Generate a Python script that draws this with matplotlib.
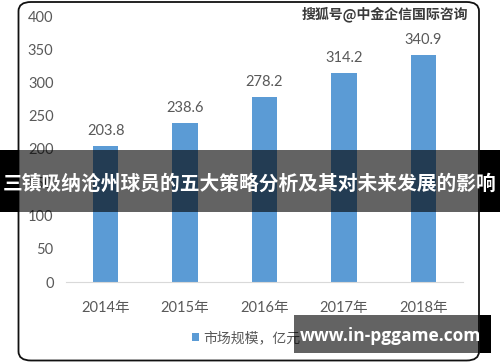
import matplotlib
matplotlib.use('Agg')
import matplotlib.pyplot as plt
from matplotlib.patches import FancyBboxPatch, Rectangle

plt.rcParams['font.family'] = ['Lato', 'Noto Sans CJK SC', 'DejaVu Sans']

# 数据
years = ['2014年', '2015年', '2016年', '2017年', '2018年']
market_size = [203.8, 238.6, 278.2, 314.2, 340.9]
y_ticks = [0, 50, 100, 150, 200, 250, 300, 350, 400]
series_name = '市场规模，亿元'
banner_text = '三镇吸纳沧州球员的五大策略分析及其对未来发展的影响'
watermark = '搜狐号@中金企信国际咨询'
site_text = 'www.in-pggame.com'

W, H = 500, 362
fig = plt.figure(figsize=(W / 100, H / 100), dpi=100)
fig.patch.set_facecolor('white')

# 图表区域
ax = fig.add_axes([66 / W, 1 - 282 / H, (463 - 66) / W, (282 - 16) / H])
bars = ax.bar(range(len(years)), market_size, width=0.32, color='#5b9bd5',
              label=series_name)
ax.set_xlim(-0.5, len(years) - 0.5)
ax.set_ylim(0, 400)
ax.set_xticks(range(len(years)))
ax.set_xticklabels(years)
ax.set_yticks(y_ticks)
ax.tick_params(length=0, labelsize=10.5, labelcolor='#595959')
ax.tick_params(axis='x', pad=14)
ax.tick_params(axis='y', pad=9)
for s in ['top', 'right', 'left']:
    ax.spines[s].set_visible(False)
ax.spines['bottom'].set_color('#d9d9d9')
ax.bar_label(bars, labels=[f'{v:.1f}' for v in market_size], padding=6,
             fontsize=10.5, color='#595959')

# 图例
fig.legend(handles=[bars], labels=[series_name], loc='center',
           bbox_to_anchor=(246 / W, 1 - 337 / H), frameon=False,
           fontsize=10, labelcolor='#595959', handlelength=0.55,
           handleheight=0.55, handletextpad=0.3)

# 圆角外框
box = FancyBboxPatch((18.5 / W, 1.5 / H), (479 - 18.5) / W, (360 - 1.5) / H,
                     boxstyle='round,pad=0,rounding_size=0.025',
                     transform=fig.transFigure, fill=False,
                     edgecolor='#111111', linewidth=1.3, zorder=5)
fig.patches.append(box)

# 水印
fig.text(468 / W, 1 - 14 / H, watermark, ha='right', va='center',
         fontsize=10, fontweight='bold', color='#3a3a3a',
         family=['Noto Sans CJK SC', 'DejaVu Sans'])

# 中间横幅
b0, b1 = 1 - 212 / H, 1 - 150 / H
fig.patches.append(Rectangle((0, b0), 1, b1 - b0, transform=fig.transFigure,
                             facecolor='black', alpha=0.61, zorder=10))
fig.patches.append(Rectangle((0, b0), 18.5 / W, b1 - b0, transform=fig.transFigure,
                             facecolor='black', zorder=10))
fig.patches.append(Rectangle((479.5 / W, b0), 1, b1 - b0, transform=fig.transFigure,
                             facecolor='black', zorder=10))
fig.text(0.5, 1 - 184 / H, banner_text, ha='center', va='center',
         fontsize=14.2, fontweight='bold', color='white', zorder=11,
         family=['Noto Sans CJK SC', 'DejaVu Sans'])

# 右下角网址
s0, s1 = 1 - 353 / H, 1 - 315 / H
fig.patches.append(Rectangle((294 / W, s0), (479.5 - 294) / W, s1 - s0,
                             transform=fig.transFigure, facecolor='black',
                             alpha=0.61, zorder=10))
fig.patches.append(Rectangle((479.5 / W, s0), (491 - 479.5) / W, s1 - s0,
                             transform=fig.transFigure, facecolor='black', zorder=10))
fig.text(390 / W, 1 - 336 / H, site_text, ha='center', va='center',
         fontsize=12.5, fontweight='bold', color='white', zorder=11,
         family=['Open Sans', 'DejaVu Sans'])

fig.savefig('out.png', dpi=100)
